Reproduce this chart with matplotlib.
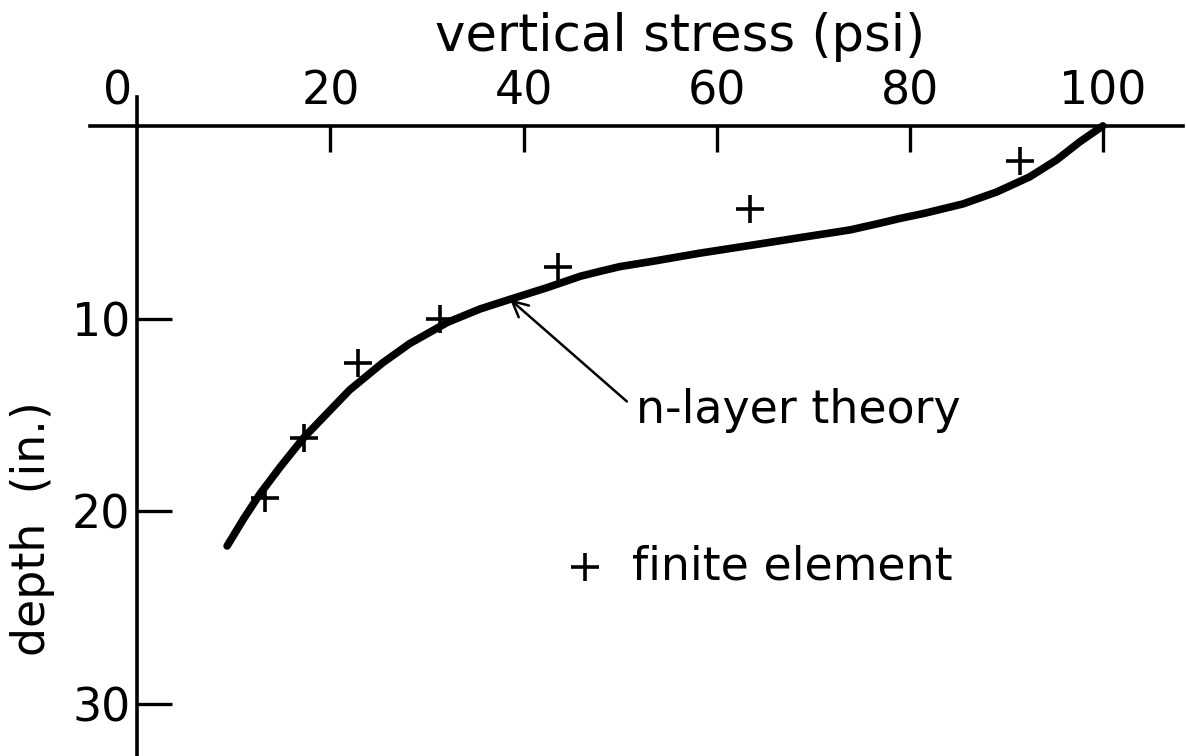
"""Vertical stress versus depth: n-layer theory against finite element results."""

import matplotlib
matplotlib.use('Agg')
import matplotlib.pyplot as plt

# n-layer theory curve, vertical stress (psi) against depth (in.)
theory_stress = [100, 97.6, 95.2, 92.4, 89.0, 85.5, 81.4, 79.0, 76.9, 73.8,
                 68.6, 63.5, 58.3, 53.1, 50.0, 47.9, 45.9, 42.4, 38.6, 35.5,
                 32.1, 28.2, 25.4, 22.0, 19.5, 17.2, 14.8, 12.7, 11.0, 9.3]
theory_depth = [0, 0.83, 1.77, 2.65, 3.43, 4.05, 4.55, 4.8, 5.05, 5.4,
                5.8, 6.2, 6.6, 7.05, 7.3, 7.55, 7.8, 8.4, 9.0, 9.5,
                10.2, 11.3, 12.3, 13.7, 15.0, 16.2, 17.7, 19.1, 20.4, 21.8]

# finite element results
fe_stress = [13.2, 17.3, 22.9, 31.4, 43.6, 63.5, 91.4]
fe_depth = [19.3, 16.2, 12.3, 10.0, 7.3, 4.3, 1.8]

x_ticks = [20, 40, 60, 80, 100]
y_ticks = [10, 20, 30]

SIZE = 33

plt.rcParams['font.family'] = ['DejaVu Sans']

W, H = 1186, 756
fig = plt.figure(figsize=(W / 100, H / 100), dpi=100)
ax = fig.add_axes([90 / W, 0, (1183 - 90) / W, (756 - 97) / H])

ax.plot(theory_stress, theory_depth, color='black', lw=5.5,
        solid_capstyle='round', solid_joinstyle='round', clip_on=False)
ax.plot(fe_stress, fe_depth, ls='none', marker='+', ms=20, mew=2.6,
        color='black')

ax.set_xlim(-4.9, 108.3)
ax.set_ylim(32.7, -1.5)

# axes cross at the origin: stress axis along the top, depth axis down the left
for side in ('right', 'bottom'):
    ax.spines[side].set_visible(False)
ax.spines['top'].set_position(('data', 0))
ax.spines['left'].set_position(('data', 0))
for side in ('top', 'left'):
    ax.spines[side].set_linewidth(2.6)

ax.xaxis.tick_top()
ax.set_xticks(x_ticks)
ax.set_yticks(y_ticks)
ax.tick_params(axis='x', direction='in', length=19, width=2.4, pad=8,
               labelsize=SIZE)
ax.tick_params(axis='y', direction='in', length=25, width=2.4, pad=5,
               labelsize=SIZE)
ax.annotate('0', xy=(0, 0), xytext=(-20, 11), textcoords='offset pixels',
            ha='center', va='bottom', fontsize=SIZE)

fig.text(680 / W, 1 - 37 / H, 'vertical stress (psi)', ha='center',
         va='center', fontsize=37)
fig.text(33 / W, 1 - 529 / H, 'depth  (in.)', ha='center', va='center',
         rotation=90, fontsize=SIZE)

ax.annotate('', xy=(38.6, 9.0), xytext=(50.7, 14.3),
            arrowprops=dict(arrowstyle='->', lw=1.8, color='black',
                            mutation_scale=28, shrinkA=0, shrinkB=0))
ax.text(51.6, 14.75, 'n-layer theory', ha='left', va='center', fontsize=SIZE)

ax.plot([46.4], [22.9], ls='none', marker='+', ms=20, mew=2.6, color='black')
ax.text(51.2, 22.9, 'finite element', ha='left', va='center', fontsize=SIZE)

fig.savefig('out.png', dpi=100, facecolor='white')
